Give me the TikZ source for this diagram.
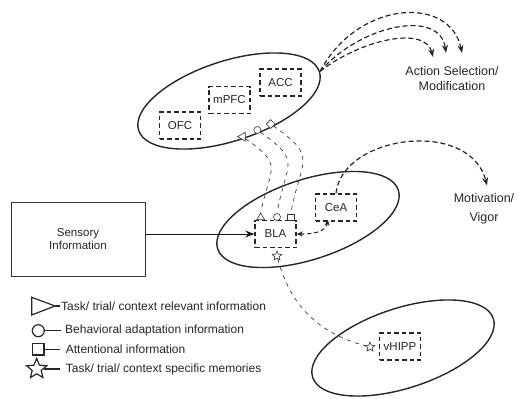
\documentclass[tikz,border=0pt]{standalone}
\usepackage{fontspec}
\setmainfont{Liberation Sans}
\usetikzlibrary{shapes.geometric,arrows.meta,calc}

\begin{document}
\begin{tikzpicture}[x=1pt,y=-1pt,
  region/.style={draw=black!85, line width=1.4pt, ellipse, minimum width=190pt,
    minimum height=80pt, inner sep=0pt, rotate=18},
  area/.style={draw=black!85, line width=1.45pt, dash pattern=on 4.5pt off 3pt,
    minimum width=41pt, minimum height=27pt, inner sep=0pt,
    font=\fontsize{11.5}{13}\selectfont, text=black!85},
  infoline/.style={draw=black!75, line width=0.7pt, dash pattern=on 4pt off 4.5pt},
  outarrow/.style={draw=black!85, line width=1.2pt, dash pattern=on 5pt off 3pt,
    -{Stealth[length=8pt,width=6pt]}},
  sym/.style={draw=black!80, line width=0.6pt, inner sep=0pt, fill=white},
  keysym/.style={draw=black!85, line width=1.2pt},
  txt/.style={font=\fontsize{12}{14}\selectfont, text=black!85, inner sep=0pt},
]
\useasboundingbox (0,0) rectangle (523,399);

% brain regions
\node[region] (pfc) at (229,101) {};
\node[region] (amy) at (308,219.5) {};
\node[region] (hip) at (403,348) {};

% sub-areas
\node[area] (ofc) at (180,125.5) {OFC};
\node[area] (mpfc) at (229.5,100) {mPFC};
\node[area] (acc) at (280.5,82.5) {ACC};
\node[area] (bla) at (275.5,234) {BLA};
\node[area] (cea) at (336,207.5) {CeA};
\node[area] (vhipp) at (400,346.5) {vHIPP};

% sensory input
\node[draw=black!80, line width=0.8pt, minimum width=134pt, minimum height=74pt,
  align=center, font=\fontsize{11.5}{13.5}\selectfont, text=black!85] (sens) at (78,239)
  {Sensory\\Information};
\draw[black!90, line width=1pt, -{Stealth[length=9pt,width=7pt]}] (sens.east |- bla.west) -- (bla.west);

% outputs
\node[txt, align=center, font=\fontsize{12.5}{15}\selectfont] (act) at (452,79) {Action Selection/\\Modification};
\node[txt, align=center, font=\fontsize{12.5}{19}\selectfont] (mot) at (484,209) {Motivation/\\Vigor};
\coordinate (a1) at (433,57);
\coordinate (a2) at (446,53);
\coordinate (a3) at (462,53);

\draw[outarrow] (pfc.east) .. controls (360,40) and (425,25) .. (a1);
\draw[outarrow] (pfc.east) .. controls (360,25) and (440,8) .. (a2);
\draw[outarrow] (pfc.east) .. controls (358,0) and (450,-5) .. (a3);
\draw[outarrow] (cea.north) .. controls (342,135) and (470,118) .. ($(mot.north)+(3,-8)$);
\draw[draw=black!85, line width=1.1pt, dash pattern=on 4pt off 3pt,
  {Stealth[length=6pt,width=5pt]}-{Stealth[length=6pt,width=5pt]}]
  (bla.east) to[out=0,in=-100] ($(cea.south)+(-8,-2)$);

% information markers
\node[sym, regular polygon, regular polygon sides=3, minimum size=10pt, shape border rotate=90] (t1) at (242.7,136.7) {};
\node[sym, circle, minimum size=7pt] (c1) at (257.3,130) {};
\node[sym, diamond, minimum size=9pt] (d1) at (270.7,124) {};
\node[sym, regular polygon, regular polygon sides=3, minimum size=9pt] (t2) at (260.7,217.5) {};
\node[sym, circle, minimum size=7pt] (c2) at (277,217) {};
\node[sym, rectangle, minimum size=6.5pt] (s2) at (290.7,217.5) {};
\node[sym, star, star points=5, star point ratio=2.2, minimum size=10pt] (st1) at (277,256) {};
\node[sym, star, star points=5, star point ratio=2.2, minimum size=10pt] (st2) at (370,347) {};

\draw[infoline] (t1) to[out=-35,in=78,looseness=1.6] (t2.north);
\draw[infoline] (c1) to[out=-35,in=80,looseness=1.6] (c2.north);
\draw[infoline] (d1) to[out=-35,in=80,looseness=1.6] (s2.north);
\draw[infoline] (st1) to[out=-75,in=165] (st2);

% legend
\draw[keysym] (31.7,297.3) -- (55,306) -- (31.7,315) -- cycle;
\draw[keysym] (55,306) -- (60,306);
\draw[keysym] (38.3,330.7) circle (6);
\draw[keysym] (44.3,330.7) -- (60.5,330.7);
\draw[keysym] (32.3,343.3) rectangle (44,355);
\draw[keysym] (44,349.2) -- (60,349.2);
\draw[keysym] (44,369) -- (60,369);
\node[keysym, fill=white, star, star points=5, star point ratio=2.2, minimum size=21pt, inner sep=0pt] (kst) at (36.7,369) {};

\node[txt, anchor=west] (k1) at (61,306) {Task/ trial/ context relevant information};
\node[txt, anchor=west] (k2) at (65,330.7) {Behavioral adaptation information};
\node[txt, anchor=west] (k3) at (65.7,349.3) {Attentional information};
\node[txt, anchor=west] (k4) at (65.7,369) {Task/ trial/ context specific memories};
\end{tikzpicture}
\end{document}
